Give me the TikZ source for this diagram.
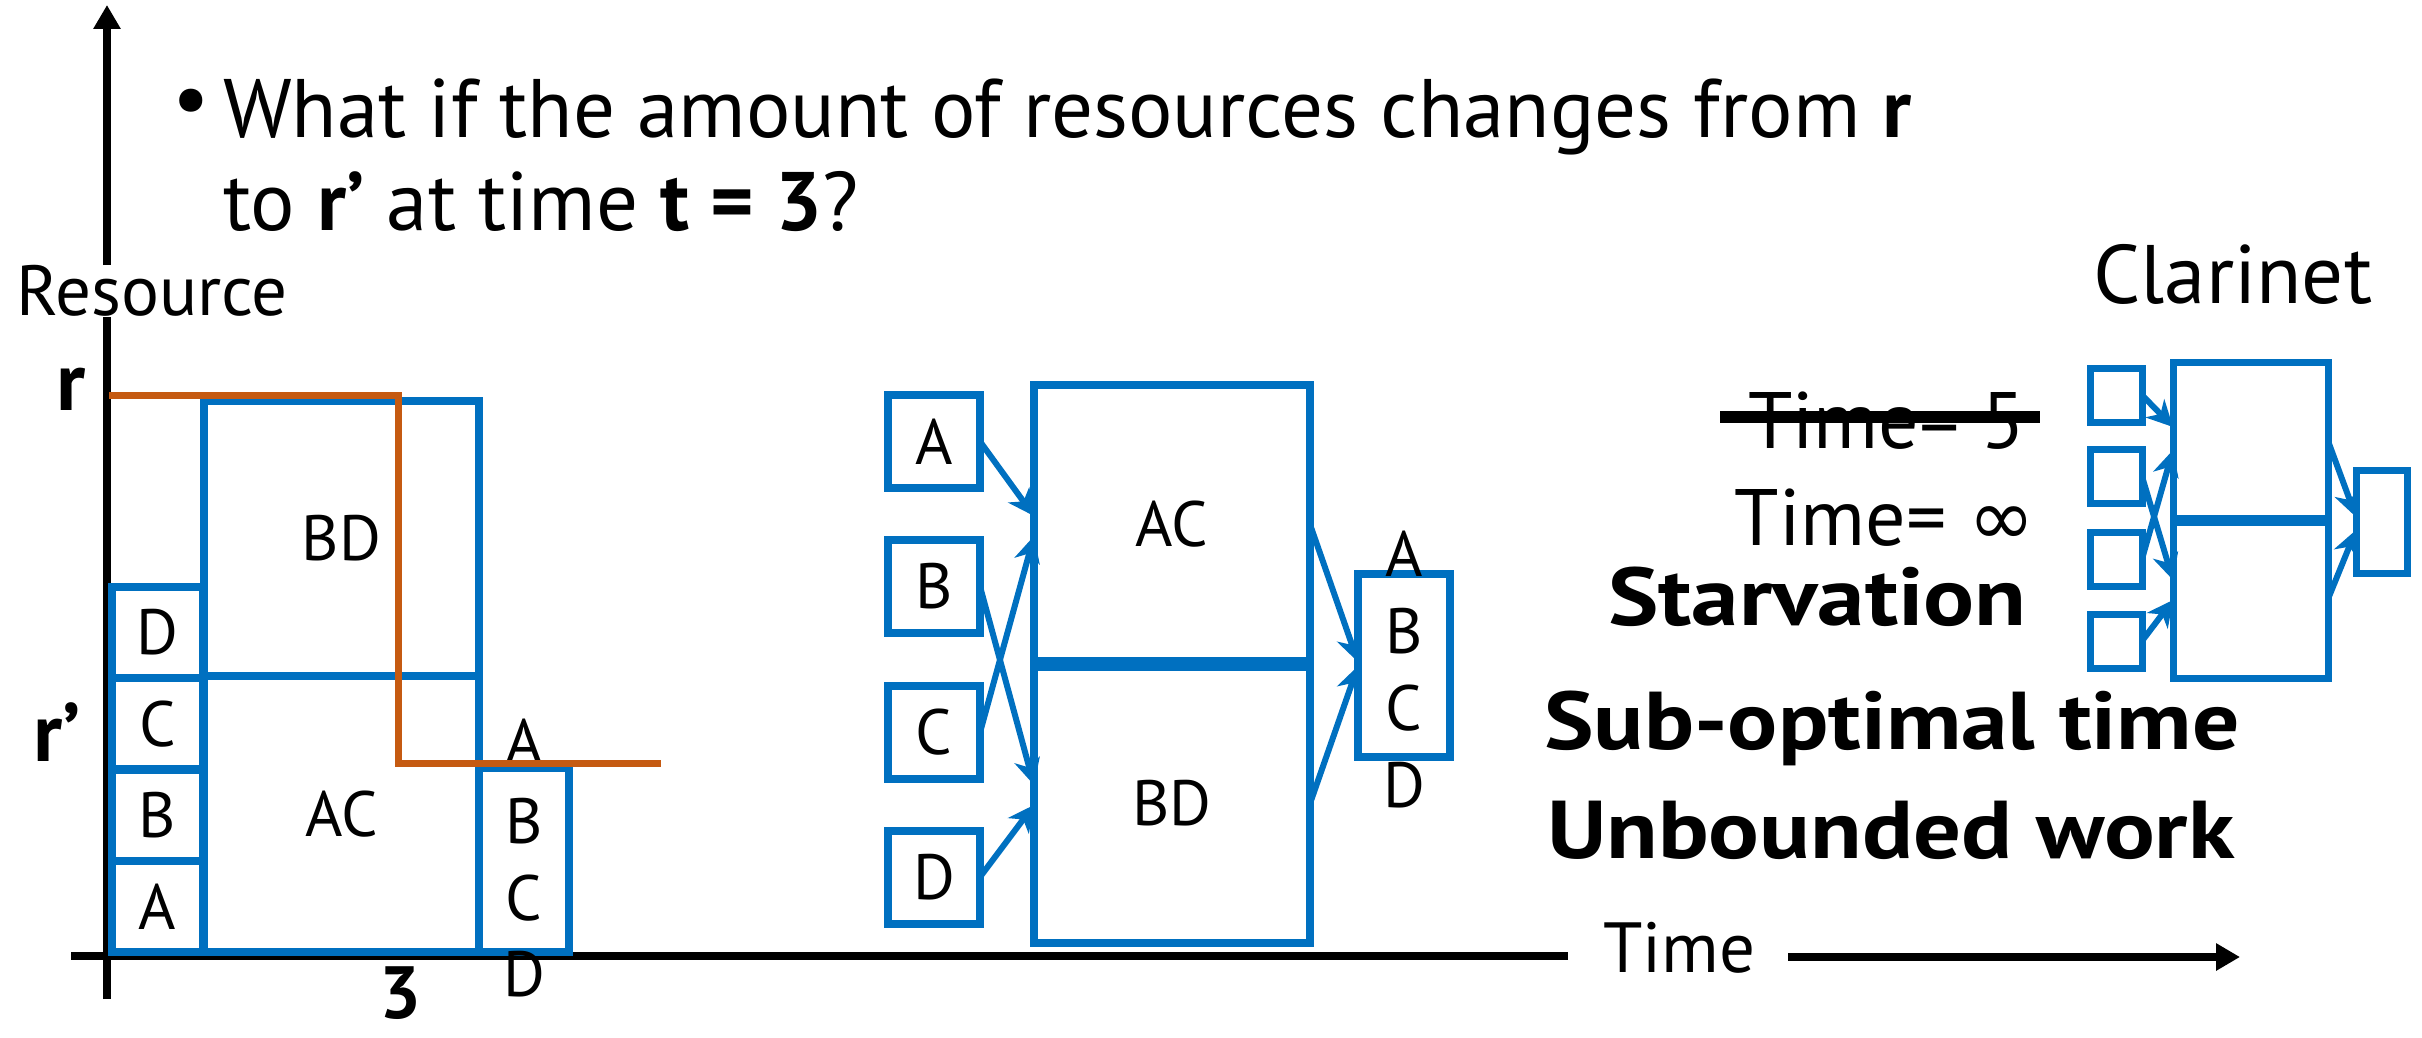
\documentclass[tikz,border=0pt]{standalone}
\usepackage{fontspec}
\setmainfont{PT Sans}
\newfontfamily\symf{DejaVu Sans}
\usetikzlibrary{arrows.meta}
\definecolor{bl}{HTML}{0070C0}
\definecolor{orng}{HTML}{C55A11}
\newcommand\fsz[1]{\fontsize{#1}{#1}\selectfont}
\begin{document}
\begin{tikzpicture}[x=1pt,y=-1pt,
  bbox/.style={draw=bl,line width=8pt,inner sep=0pt,outer sep=0pt},
  cbox/.style={draw=bl,line width=7pt,inner sep=0pt,outer sep=0pt},
  lbl/.style={inner sep=0pt,font=\fsz{64}},
  txt/.style={inner sep=0pt,font=\fsz{83}},
  arr/.style={draw=bl,line width=6pt,-{Stealth[length=26pt,width=26pt,inset=8pt]}},
  axis/.style={draw=black,line width=8pt},
  axarr/.style={draw=black,line width=8pt,-{Triangle[length=24pt,width=26pt]}}]
\useasboundingbox (0,0) rectangle (2422,1038);

% ---- axes ----
\draw[axis] (107,999) -- (107,317);
\draw[axarr] (107,265) -- (107,5);
\draw[axis] (71,956) -- (1568,956);
\draw[axarr] (1788,957) -- (2240,957);
\node[txt,anchor=base west,font=\fsz{71}] (tlabel) at (1603,972) {Time};
\node[txt,anchor=base west,font=\fsz{71}] (rlabel) at (16,315) {Resource};
\node[txt,anchor=base west,font=\fsz{83}\bfseries] (r) at (56,410) {r};
\node[txt,anchor=base west,font=\fsz{83}\bfseries] (rp) at (33,761) {r’};
\node[txt,anchor=base,font=\fsz{74}\bfseries] (three) at (400,1018) {3};

% ---- bullet text ----
\node[txt,anchor=center] (bul) at (191,108) {•};
\node[txt,anchor=base west] (l1) at (223,138) {What if the amount of resources changes from \textbf{r}};
\node[txt,anchor=base west] (l2) at (223,230) {to \textbf{r’} at time \textbf{t = 3}?};

% ---- left chart ----
\node[bbox,minimum width=91pt,minimum height=91.25pt] (lA) at (157.5,906.4) {};
\node[bbox,minimum width=91pt,minimum height=91.25pt] (lB) at (157.5,815.1) {};
\node[bbox,minimum width=91pt,minimum height=91.25pt] (lC) at (157.5,723.9) {};
\node[bbox,minimum width=91pt,minimum height=91.25pt] (lD) at (157.5,632.6) {};
\node[lbl] at (lA) {A};
\node[lbl] at (lB) {B};
\node[lbl] at (lC) {C};
\node[lbl] at (lD) {D};
\node[bbox,minimum width=275pt,minimum height=276pt] (lAC) at (341.5,814) {};
\node[bbox,minimum width=275pt,minimum height=275pt] (lBD) at (341.5,538.5) {};
\node[lbl] at (lAC) {AC};
\node[lbl] at (lBD) {BD};
\node[bbox,minimum width=90pt,minimum height=184pt] (lR) at (524,860) {};
\node[lbl] (lRa) at (524,742) {A};
\node[lbl] (lRb) at (524,821) {B};
\node[lbl] (lRc) at (524,898) {C};
\node[lbl] (lRd) at (524,974) {D};
\draw[orng,line width=7pt] (109,395) -- (398,395) -- (398,763) -- (661,763);

% ---- middle ----
\node[bbox,minimum width=92pt,minimum height=93pt] (mA) at (934,441.5) {};
\node[bbox,minimum width=92pt,minimum height=93pt] (mB) at (934,586.5) {};
\node[bbox,minimum width=92pt,minimum height=93pt] (mC) at (934,732.5) {};
\node[bbox,minimum width=92pt,minimum height=93pt] (mD) at (934,877) {};
\node[lbl] at (mA) {A};
\node[lbl] at (mB) {B};
\node[lbl] at (mC) {C};
\node[lbl] at (mD) {D};
\node[bbox,minimum width=276pt,minimum height=279pt] (mAC) at (1172,524.5) {};
\node[bbox,minimum width=276pt,minimum height=279pt] (mBD) at (1172,803.5) {};
\draw[bl,line width=14pt] (mAC.south west) -- (mAC.south east);
\node[lbl] at (mAC) {AC};
\node[lbl] at (mBD) {BD};
\node[bbox,minimum width=92pt,minimum height=183pt] (mR) at (1404,665.5) {};
\node[lbl] (mRa) at (1404,554) {A};
\node[lbl] (mRb) at (1404,631) {B};
\node[lbl] (mRc) at (1404,708) {C};
\node[lbl] (mRd) at (1404,785) {D};
\coordinate (tA) at (1034,516);
\coordinate (tC) at (1034,536);
\coordinate (tB) at (1034,785);
\coordinate (tD) at (1034,805);
\coordinate (tR1) at (1358,662);
\coordinate (tR2) at (1358,666);
\draw[arr] (mA.east) -- (tA);
\draw[arr] (mC.east) -- (tC);
\draw[arr] (mB.east) -- (tB);
\draw[arr] (mD.east) -- (tD);
\draw[arr] (mAC.east) -- (tR1);
\draw[arr] (mBD.east) -- (tR2);

% ---- right texts ----
\node[txt,anchor=base east,font=\fsz{80}] (t5) at (2025,448) {Time= 5};
\draw[line width=12pt] (1720,417) -- (2040,417);
\node[txt,anchor=base east,font=\fsz{80}] (tinf) at (2035,545) {Time= {\symf ∞}};
\node[txt,anchor=base east,font=\fsz{82}\bfseries] (starv) at (2027,625) {\scalebox{1.16}[1]{Starvation}};
\node[txt,anchor=base west,font=\fsz{82}\bfseries] (subopt) at (1544,749) {\scalebox{1.14}[1]{Sub-optimal time}};
\node[txt,anchor=base west,font=\fsz{82}\bfseries] (unb) at (1547,858) {\scalebox{1.155}[1]{Unbounded work}};

% ---- Clarinet ----
\node[txt,anchor=base west,font=\fsz{83}] (clar) at (2093,303) {Clarinet};
\node[cbox,minimum width=52pt,minimum height=54pt] (c1) at (2116,395) {};
\node[cbox,minimum width=52pt,minimum height=54pt] (c2) at (2116,476.5) {};
\node[cbox,minimum width=52pt,minimum height=54pt] (c3) at (2116,559) {};
\node[cbox,minimum width=52pt,minimum height=54pt] (c4) at (2116,641) {};
\node[cbox,minimum width=155pt,minimum height=158pt] (cU) at (2250.5,441) {};
\node[cbox,minimum width=155pt,minimum height=158pt] (cL) at (2250.5,599) {};
\draw[bl,line width=11pt] (cU.south west) -- (cU.south east);
\node[cbox,minimum width=51pt,minimum height=103pt] (cR) at (2381.5,521.5) {};
\coordinate (u1) at (2173,427);
\coordinate (u3) at (2173,450);
\coordinate (u2) at (2173,580);
\coordinate (u4) at (2173,600);
\coordinate (ur1) at (2356,517);
\coordinate (ur2) at (2356,530);
\draw[arr] (c1.east) -- (u1);
\draw[arr] (c3.east) -- (u3);
\draw[arr] (c2.east) -- (u2);
\draw[arr] (c4.east) -- (u4);
\draw[arr] (cU.east) -- (ur1);
\draw[arr] (cL.east) -- (ur2);
\end{tikzpicture}
\end{document}
